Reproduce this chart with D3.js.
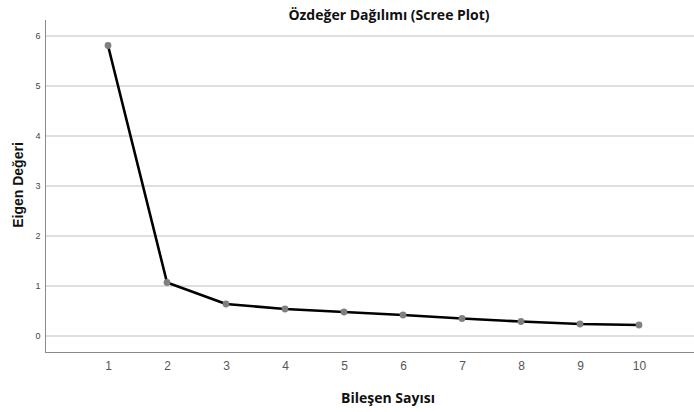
<!DOCTYPE html>
<html><head><meta charset="utf-8">
<script src="https://cdn.jsdelivr.net/npm/d3@7"></script>
<style>body{margin:0;background:#fff}svg{display:block}</style>
</head><body>
<svg id="c" width="694" height="412"></svg>
<script>
const components = [1,2,3,4,5,6,7,8,9,10];
const eigenvalues = [5.81,1.07,0.64,0.54,0.48,0.42,0.35,0.29,0.24,0.22];
const yTicks = [0,1,2,3,4,5,6];
const title = "Özdeğer Dağılımı (Scree Plot)";
const xTitle = "Bileşen Sayısı";
const yTitle = "Eigen Değeri";

(function(){
const svg = d3.select("#c");
const mL = 45, mR = 694, mT = 20, mB = 352;
const x = d3.scaleLinear().domain([1,10]).range([108,639]);
const y = d3.scaleLinear().domain([0,6]).range([336,36]);

// gridlines
svg.append("g").selectAll("line").data(yTicks).join("line")
  .attr("x1", mL).attr("x2", mR)
  .attr("y1", d=>y(d)).attr("y2", d=>y(d))
  .attr("stroke", "#d4d4d4").attr("stroke-width", 1.3);

// axis lines
svg.append("line").attr("x1", mL+0.5).attr("x2", mL+0.5).attr("y1", mT).attr("y2", mB)
  .attr("stroke", "#8a8a8a").attr("stroke-width", 1);
svg.append("line").attr("x1", mL).attr("x2", mR).attr("y1", mB+0.5).attr("y2", mB+0.5)
  .attr("stroke", "#8a8a8a").attr("stroke-width", 1);

// y tick labels via axis
const ya = svg.append("g").attr("transform", `translate(${mL},0)`)
  .call(d3.axisLeft(y).tickValues(yTicks).tickSize(0).tickPadding(3).tickFormat(d3.format("d")));
ya.select(".domain").remove();
ya.selectAll("text").attr("font-family", "Liberation Sans, Arial, sans-serif")
  .attr("font-size", 9).attr("fill", "#444").attr("text-anchor", "middle").attr("x", -7);

// x tick labels via axis
const xa = svg.append("g").attr("transform", `translate(0,${mB})`)
  .call(d3.axisBottom(x).tickValues(components).tickSize(0).tickPadding(9).tickFormat(d3.format("d")));
xa.select(".domain").remove();
xa.selectAll("text").attr("font-family", "Liberation Sans, Arial, sans-serif")
  .attr("font-size", 12).attr("fill", "#555");

// line
const line = d3.line().x((d,i)=>x(components[i])).y(d=>y(d));
svg.append("path").datum(eigenvalues).attr("d", line)
  .attr("fill", "none").attr("stroke", "#000").attr("stroke-width", 2.6)
  .attr("stroke-linejoin", "round");

svg.append("g").selectAll("circle").data(eigenvalues).join("circle")
  .attr("cx", (d,i)=>x(components[i])).attr("cy", d=>y(d)).attr("r", 3.4)
  .attr("fill", "#808080");

// titles
svg.append("text").attr("x", 389).attr("y", 15).attr("dy", "0.35em")
  .attr("text-anchor", "middle").attr("font-family", "Open Sans, sans-serif")
  .attr("font-weight", "bold").attr("font-size", 14).attr("fill", "#111").text(title);

svg.append("text").attr("x", 388).attr("y", 398).attr("dy", "0.35em")
  .attr("text-anchor", "middle").attr("font-family", "Open Sans, sans-serif")
  .attr("font-weight", "bold").attr("font-size", 14).attr("fill", "#111").text(xTitle);

svg.append("text").attr("transform", "translate(18,185) rotate(-90)").attr("dy", "0.35em")
  .attr("text-anchor", "middle").attr("font-family", "Liberation Sans, Arial, sans-serif")
  .attr("font-weight", "bold").attr("font-size", 14).attr("fill", "#111").text(yTitle);
})();
</script>
</body></html>
